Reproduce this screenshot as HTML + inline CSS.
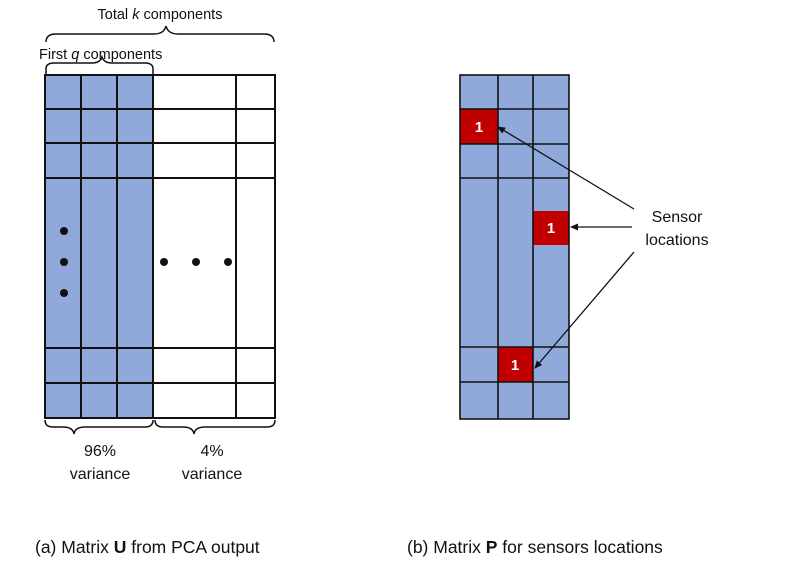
<!DOCTYPE html>
<html><head><style>body{margin:0;background:#fff}svg{display:block}text{font-family:"Liberation Sans",sans-serif;fill:#111}</style></head><body>
<svg width="787" height="567" viewBox="0 0 787 567">
<defs><marker id="a" markerWidth="8" markerHeight="8" refX="7" refY="4" orient="auto" markerUnits="userSpaceOnUse"><path d="M0,0.5 L8,4 L0,7.5z" fill="#111"/></marker></defs>
<rect x="45" y="75" width="108" height="343" fill="#8fa9da"/>
<g stroke="#111" stroke-width="2" fill="none">
<rect x="45" y="75" width="230" height="343"/>
<path d="M81 75V418M117 75V418M153 75V418M236 75V418M45 109H275M45 143H275M45 178H275M45 348H275M45 383H275"/>
<path d="M46 42q0-8 10-8h98q10 0 12-8q2 8 12 8h86q10 0 10 8" stroke-width="1.5"/>
<path d="M46 75v-6q0-6 8-6h38q8 0 10-6q2 6 10 6h33q8 0 8 6v6" stroke-width="1.5"/>
<path d="M45 420q0 7 8 7h10q10 0 11 7q1-7 11-7h60q8 0 8-7" stroke-width="1.5"/>
<path d="M155 420q0 7 8 7h20q10 0 11 7q1-7 11-7h62q8 0 8-7" stroke-width="1.5"/>
</g>
<g fill="#111"><circle cx="64" cy="231" r="4"/><circle cx="64" cy="262" r="4"/><circle cx="64" cy="293" r="4"/>
<circle cx="164" cy="262" r="4"/><circle cx="196" cy="262" r="4"/><circle cx="228" cy="262" r="4"/>
<circle cx="479" cy="231" r="4"/><circle cx="479" cy="262" r="4"/><circle cx="479" cy="293" r="4"/></g>
<text x="160" y="19" font-size="14.5" text-anchor="middle">Total <tspan font-style="italic">k</tspan> components</text>
<text x="39" y="59" font-size="14.5">First <tspan font-style="italic">q</tspan> components</text>
<text x="100" y="456" font-size="16" text-anchor="middle">96%</text>
<text x="100" y="479" font-size="16" text-anchor="middle">variance</text>
<text x="212" y="456" font-size="16" text-anchor="middle">4%</text>
<text x="212" y="479" font-size="16" text-anchor="middle">variance</text>
<text x="35" y="553" font-size="17.5">(a) Matrix <tspan font-weight="bold">U</tspan> from PCA output</text>
<rect x="460" y="75" width="109" height="344" fill="#8fa9da"/>
<rect x="460" y="109" width="38" height="35" fill="#c00000"/>
<rect x="533" y="211" width="36" height="34" fill="#c00000"/>
<rect x="498" y="347" width="35" height="35" fill="#c00000"/>
<g stroke="#111" stroke-width="1.6" fill="none">
<rect x="460" y="75" width="109" height="344"/>
<path d="M498 75V419M533 75V419M460 109H569M460 144H569M460 178H569M460 347H569M460 382H569"/>
</g>
<g font-size="15" font-weight="bold" text-anchor="middle"><text x="479" y="132" style="fill:#fff">1</text><text x="551" y="233" style="fill:#fff">1</text><text x="515" y="370" style="fill:#fff">1</text></g>
<g stroke="#111" stroke-width="1.3" marker-end="url(#a)">
<line x1="634" y1="209" x2="498" y2="127"/>
<line x1="632" y1="227" x2="571" y2="227"/>
<line x1="634" y1="252" x2="535" y2="368"/>
</g>
<text x="677" y="222" font-size="16" text-anchor="middle">Sensor</text>
<text x="677" y="245" font-size="16" text-anchor="middle">locations</text>
<text x="407" y="553" font-size="17.5">(b) Matrix <tspan font-weight="bold">P</tspan> for sensors locations</text>
</svg>
</body></html>
